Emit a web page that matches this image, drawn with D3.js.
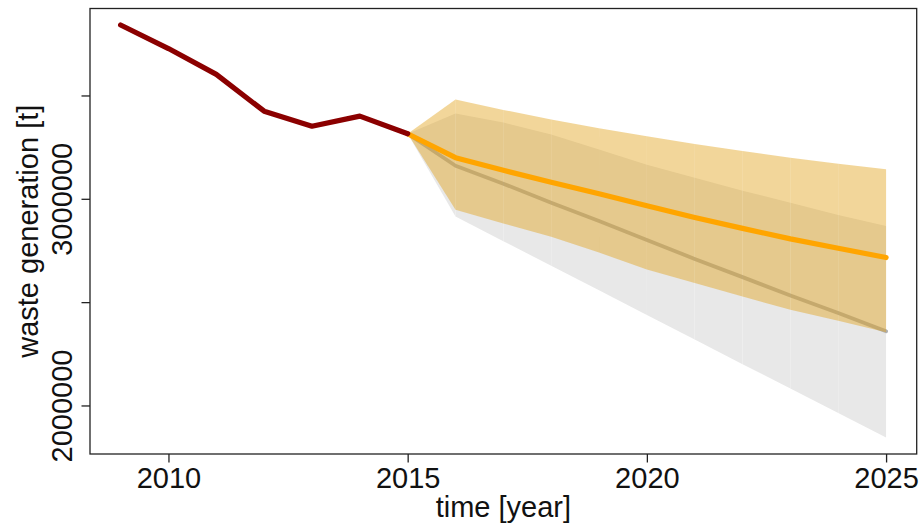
<!DOCTYPE html>
<html>
<head>
<meta charset="utf-8">
<script src="https://cdn.jsdelivr.net/npm/d3@7"></script>
<style>
  html, body { margin: 0; padding: 0; background: #fff; }
  svg { display: block; }
  text { font-family: "Liberation Sans", Arial, Helvetica, sans-serif; fill: #111; }
</style>
</head>
<body>
<svg id="chart" width="922" height="530"></svg>
<script>
// Observed waste generation, 2009-2015 [t]
const histYears = [2009, 2010, 2011, 2012, 2013, 2014, 2015];
const histValues = [3841000, 3727000, 3602000, 3424000, 3351000, 3400000, 3315000];

// Forecast horizon (starts at the last observed year)
const fcYears = [2015, 2016, 2017, 2018, 2019, 2020, 2021, 2022, 2023, 2024, 2025];

// Main forecast (orange) with its interval
const fcMean  = [3315000, 3199000, 3138000, 3080000, 3024000, 2966000, 2910000, 2857000, 2806000, 2761000, 2716000];
const fcUpper = [3315000, 3481000, 3430000, 3384000, 3342000, 3303000, 3265000, 3231000, 3199000, 3170000, 3143000];
const fcLower = [3315000, 2947000, 2881000, 2816000, 2740000, 2658000, 2592000, 2527000, 2463000, 2410000, 2354000];

// Linear trend forecast (grey) with its interval
const trMean  = [3315000, 3160000, 3073000, 2981000, 2893000, 2801000, 2709000, 2621000, 2532000, 2447000, 2359000];
const trUpper = [3315000, 3413000, 3369000, 3311000, 3238000, 3165000, 3102000, 3039000, 2981000, 2922000, 2869000];
const trLower = [3315000, 2914000, 2795000, 2676000, 2557000, 2438000, 2319000, 2200000, 2082000, 1963000, 1845000];

// Axis ticks
const xTicks = [2010, 2015, 2020, 2025];
const yTicks = [2000000, 2500000, 3000000, 3500000];
const yLabelled = [2000000, 3000000];

const svg = d3.select("#chart");
const plot = { left: 90, right: 916.7, top: 8.5, bottom: 454 };

// Domains padded by 4% on each side of the data range
function padded(lo, hi) {
  const p = (hi - lo) * 0.04;
  return [lo - p, hi + p];
}
const allYears = histYears.concat(fcYears);
const allValues = histValues.concat(fcUpper, fcLower, trUpper, trLower);

const x = d3.scaleLinear()
  .domain(padded(d3.min(allYears), d3.max(allYears)))
  .range([plot.left, plot.right]);
const y = d3.scaleLinear()
  .domain(padded(d3.min(allValues), d3.max(allValues)))
  .range([plot.bottom, plot.top]);

// Interval bands are drawn one year-segment at a time
function drawBand(upper, lower, fill, opacity) {
  const g = svg.append("g");
  for (let i = 0; i < fcYears.length - 1; i++) {
    const pts = [
      [x(fcYears[i]), y(upper[i])],
      [x(fcYears[i + 1]), y(upper[i + 1])],
      [x(fcYears[i + 1]), y(lower[i + 1])],
      [x(fcYears[i]), y(lower[i])]
    ];
    g.append("path")
      .attr("d", "M" + pts.map(p => p.join(",")).join("L") + "Z")
      .attr("fill", fill)
      .attr("fill-opacity", opacity);
  }
}

const line = d3.line().x(d => x(d[0])).y(d => y(d[1]));

// Grey trend band and line
drawBand(trUpper, trLower, "#e8e8e8", 1);
svg.append("path")
  .attr("d", line(d3.zip(fcYears, trMean)))
  .attr("fill", "none")
  .attr("stroke", "#b0b0b0")
  .attr("stroke-width", 3.8)
  .attr("stroke-linecap", "round")
  .attr("stroke-linejoin", "round");

// Orange forecast band and line
drawBand(fcUpper, fcLower, "rgb(225,161,23)", 0.435);
svg.append("path")
  .attr("d", line(d3.zip(fcYears, fcMean)))
  .attr("fill", "none")
  .attr("stroke", "#ffa500")
  .attr("stroke-width", 5.2)
  .attr("stroke-linecap", "round")
  .attr("stroke-linejoin", "round");

// Observed series
svg.append("path")
  .attr("d", line(d3.zip(histYears, histValues)))
  .attr("fill", "none")
  .attr("stroke", "#8b0000")
  .attr("stroke-width", 5.2)
  .attr("stroke-linecap", "round")
  .attr("stroke-linejoin", "round");

// Frame
svg.append("rect")
  .attr("x", plot.left).attr("y", plot.top)
  .attr("width", plot.right - plot.left)
  .attr("height", plot.bottom - plot.top)
  .attr("fill", "none")
  .attr("stroke", "#222")
  .attr("stroke-width", 1.3);

// X axis
const xAxis = svg.append("g")
  .attr("transform", `translate(0,${plot.bottom})`)
  .call(d3.axisBottom(x).tickValues(xTicks).tickFormat(d3.format("d")).tickSize(8.5).tickPadding(6));
xAxis.select(".domain").remove();
xAxis.selectAll(".tick line").attr("stroke", "#222").attr("stroke-width", 1.3);
xAxis.selectAll(".tick text")
  .attr("font-size", 29)
  .attr("font-family", "Liberation Sans, Arial, sans-serif")
  .attr("fill", "#111")
  .attr("dy", null)
  .attr("y", 34);

// Y axis (labels rotated, only some ticks labelled)
const yAxis = svg.append("g")
  .attr("transform", `translate(${plot.left},0)`)
  .call(d3.axisLeft(y).tickValues(yTicks)
    .tickFormat(d => yLabelled.includes(d) ? d3.format("d")(d) : "")
    .tickSize(8.5));
yAxis.select(".domain").remove();
yAxis.selectAll(".tick line").attr("stroke", "#222").attr("stroke-width", 1.3);
yAxis.selectAll(".tick text")
  .attr("font-size", 29)
  .attr("font-family", "Liberation Sans, Arial, sans-serif")
  .attr("fill", "#111")
  .attr("x", null).attr("dy", null)
  .attr("text-anchor", "middle")
  .attr("transform", "translate(-18.5,0) rotate(-90)");

// Axis titles
svg.append("text")
  .attr("x", (plot.left + plot.right) / 2)
  .attr("y", 517)
  .attr("text-anchor", "middle")
  .attr("font-size", 29)
  .text("time [year]");

svg.append("text")
  .attr("transform", `translate(37.5,${(plot.top + plot.bottom) / 2}) rotate(-90)`)
  .attr("text-anchor", "middle")
  .attr("font-size", 29)
  .text("waste generation [t]");
</script>
</body>
</html>
